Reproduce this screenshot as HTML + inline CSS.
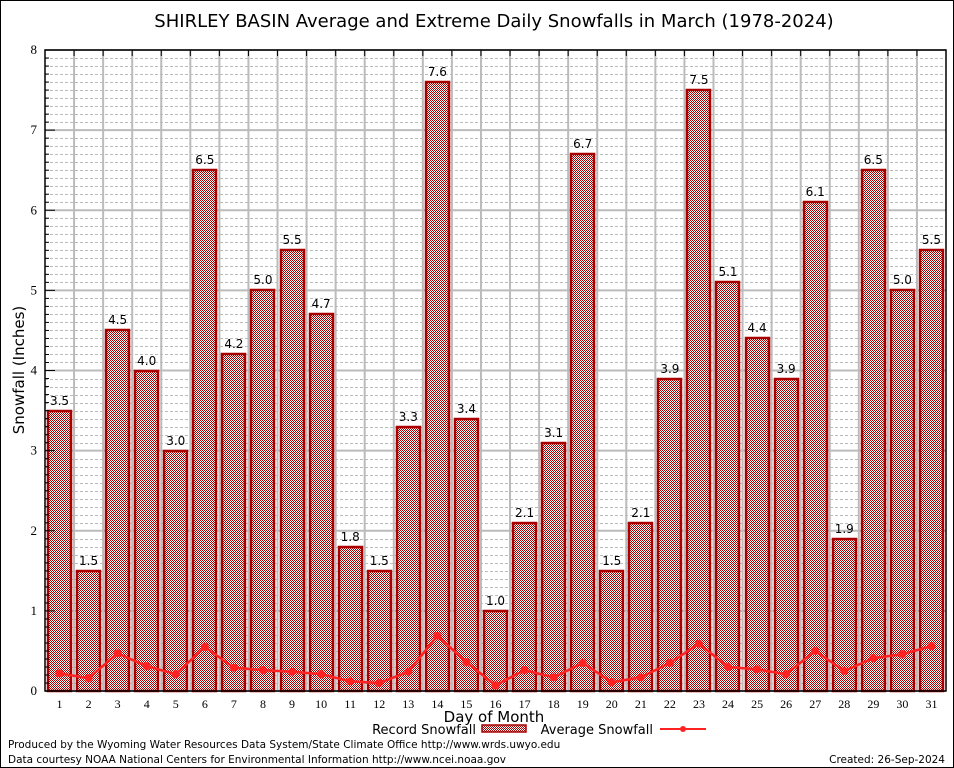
<!DOCTYPE html>
<html><head><meta charset="utf-8"><style>
body{margin:0;background:#fff;}
svg{display:block;font-family:"DejaVu Sans","Liberation Sans",sans-serif;}
</style></head><body>
<svg id="chart" width="954" height="768" viewBox="0 0 954 768">
<defs>
<pattern id="chk" x="0" y="0" width="2" height="2" patternUnits="userSpaceOnUse">
<rect width="2" height="2" fill="#fff" shape-rendering="crispEdges"/>
<rect width="1" height="1" fill="#a80000" shape-rendering="crispEdges"/>
<rect x="1" y="1" width="1" height="1" fill="#a80000" shape-rendering="crispEdges"/>
</pattern>
</defs>
<rect x="0.5" y="0.5" width="953" height="767" fill="#fff" stroke="#000"/>
<text x="494" y="27" font-size="18" text-anchor="middle">SHIRLEY BASIN Average and Extreme Daily Snowfalls in March (1978-2024)</text>
<g id="grid"></g>
<g id="bars"></g>
<g id="avg"></g>
<g id="axes"></g>
<text x="24" y="370" font-size="15" text-anchor="middle" transform="rotate(-90 24 370)">Snowfall (Inches)</text>
<text x="494" y="722" font-size="15" text-anchor="middle">Day of Month</text>
<g>
<text x="476" y="734" font-size="13" text-anchor="end">Record Snowfall</text>
<rect x="482" y="725" width="44" height="7" fill="url(#chk)" stroke="#a00" stroke-width="1.5"/>
</g>
<g>
<text x="653" y="734" font-size="13" text-anchor="end">Average Snowfall</text>
<line x1="660" y1="729" x2="706" y2="729" stroke="#f22" stroke-width="2"/>
<circle cx="683" cy="729" r="3" fill="#f22"/>
</g>
<text x="8" y="748" font-size="10.5">Produced by the Wyoming Water Resources Data System/State Climate Office http://www.wrds.uwyo.edu</text>
<text x="8" y="763" font-size="10.5">Data courtesy NOAA National Centers for Environmental Information http://www.ncei.noaa.gov</text>
<text x="945" y="763" font-size="10.5" text-anchor="end">Created: 26-Sep-2024</text>
</svg>
<script>
const days = [1,2,3,4,5,6,7,8,9,10,11,12,13,14,15,16,17,18,19,20,21,22,23,24,25,26,27,28,29,30,31];
const recordSnow = [3.5,1.5,4.5,4.0,3.0,6.5,4.2,5.0,5.5,4.7,1.8,1.5,3.3,7.6,3.4,1.0,2.1,3.1,6.7,1.5,2.1,3.9,7.5,5.1,4.4,3.9,6.1,1.9,6.5,5.0,5.5];
const avgSnow = [0.22,0.16,0.47,0.31,0.21,0.55,0.29,0.26,0.24,0.21,0.12,0.10,0.24,0.69,0.36,0.07,0.26,0.17,0.35,0.11,0.17,0.35,0.59,0.30,0.27,0.21,0.50,0.25,0.41,0.46,0.56];
const yTicks = [0,1,2,3,4,5,6,7,8];

const L=45,R=946,T=50,B=691,YMAX=8;
const slot=(R-L)/days.length;
const xs=i=>L+slot*(i+0.5);
const ys=v=>B-(v/YMAX)*(B-T);
const NS="http://www.w3.org/2000/svg";
function mk(tag,attrs,parent){const e=document.createElementNS(NS,tag);for(const k in attrs)e.setAttribute(k,attrs[k]);parent.appendChild(e);return e;}
const grid=document.getElementById('grid'),bars=document.getElementById('bars'),avg=document.getElementById('avg'),axes=document.getElementById('axes');
for(let k=1;k<YMAX*10;k++){if(k%10===0)continue;const y=Math.round(ys(k/10))+0.5;
 const l=mk('line',{x1:L,x2:R,y1:y,y2:y,stroke:'#bbb','stroke-dasharray':'3,2','stroke-width':1},grid);
 
 }
yTicks.forEach(v=>{const y=ys(v);
 const l=mk('line',{x1:L,x2:R,y1:y,y2:y,stroke:'#bbb','stroke-width':2},grid);
 
 
 const t=mk('text',{x:L-8,y:y+4,'font-size':13,'text-anchor':'end','font-family':'Liberation Serif,serif'},axes);t.textContent=v;
 
 });
for(let i=1;i<days.length;i++){const x=L+slot*i;
 const l=mk('line',{x1:x,x2:x,y1:T,y2:B,stroke:'#bbb','stroke-width':2},grid);
 
 }
days.forEach((d,i)=>{const x0=Math.round(L+slot*i+2),w=Math.round(slot-4),y=Math.round(ys(recordSnow[i]));
 const r=mk('rect',{x:x0+1,y:y,width:w-2,height:B-y,fill:'url(#chk)',stroke:'#a00','stroke-width':2.5},bars);
 
 
 const t=mk('text',{x:xs(i),y:y-6,'font-size':12,'text-anchor':'middle'},bars);t.textContent=recordSnow[i].toFixed(1);
 
 
 const xl=mk('text',{x:xs(i),y:B+17,'font-size':12,'text-anchor':'middle','font-family':'Liberation Serif,serif'},axes);xl.textContent=d;
 
 });
const pts=avgSnow.map((v,i)=>xs(i)+','+ys(v)).join(' ');
const pl=mk('polyline',{points:pts,fill:'none',stroke:'#f22','stroke-width':2.5},avg);


avgSnow.forEach((v,i)=>{const c=mk('circle',{cx:xs(i),cy:ys(v),r:4,fill:'#f22'},avg);
 
 });
const fr=mk('rect',{x:L,y:T,width:R-L,height:B-T,fill:'none',stroke:'#000','stroke-width':1.5},axes);


for(let k=1;k<YMAX*10;k++){const y=ys(k/10);const len=k%10===0?10:4;
 const tk=mk('line',{x1:L,x2:L+len,y1:y,y2:y,stroke:'#000'},axes);
 
 }
for(let i=1;i<days.length;i++){const x=L+slot*i;
 const tk=mk('line',{x1:x,x2:x,y1:T,y2:T+6,stroke:'#000'},axes);
 
 }
</script>
</body></html>
